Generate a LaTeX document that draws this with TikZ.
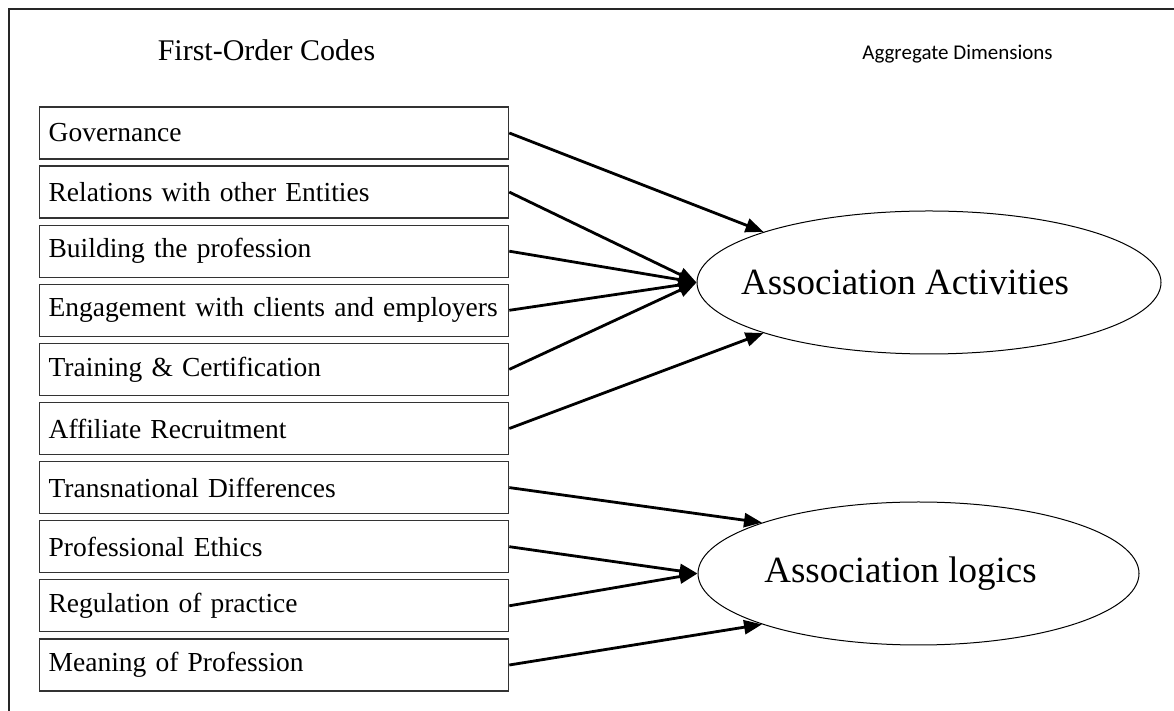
\documentclass[tikz,border=0pt]{standalone}
\usepackage{fontspec}
\setmainfont{Liberation Serif}
\newfontfamily\calibrifont{Carlito}
\usetikzlibrary{shapes.geometric,arrows.meta}
\begin{document}
\begin{tikzpicture}[x=1pt,y=1pt,
  codebox/.style={draw=black!80, line width=1.3pt, minimum height=52pt, anchor=west,
    inner xsep=9pt, inner ysep=0pt, text width=451pt, align=left,
    font=\fontsize{27.5}{32}\selectfont},
  dim/.style={draw, line width=1pt, ellipse, inner sep=0pt},
  dimtext/.style={font=\fontsize{37}{40}\selectfont},
  link/.style={line width=2.8pt, -{Triangle[length=18pt,width=14pt]}}]
\useasboundingbox (0,0) rectangle (1174,711);
% frame (cropped on the right and bottom)
\draw[line width=2pt, black!85] (1174,702) -- (9,702) -- (9,0);
% headings
\node[font=\fontsize{30}{34}\selectfont, anchor=base] (h1) at (266.5,650) {First-Order Codes};
\node[font=\calibrifont\fontsize{21}{25}\selectfont, anchor=base] (h2) at (957.5,651) {Aggregate Dimensions};
% code boxes
\node[codebox] (c1) at (39,578) {\mbox{Governance}};
\node[codebox] (c2) at (39,518.9) {\mbox{Relations with other Entities}};
\node[codebox] (c3) at (39,459.8) {\mbox{Building the profession}};
\node[codebox] (c4) at (39,400.7) {\mbox{Engagement with clients and employers}};
\node[codebox] (c5) at (39,341.6) {\mbox{Training \& Certification}};
\node[codebox] (c6) at (39,282.5) {\mbox{Affiliate Recruitment}};
\node[codebox] (c7) at (39,223.4) {\mbox{Transnational Differences}};
\node[codebox] (c8) at (39,164.3) {\mbox{Professional Ethics}};
\node[codebox] (c9) at (39,105.2) {\mbox{Regulation of practice}};
\node[codebox] (c10) at (39,46) {\mbox{Meaning of Profession}};
% aggregate dimensions
\node[dim, minimum width=464pt, minimum height=143pt] (act) at (929,428.5) {};
\node[dimtext] (actl) at ([xshift=-24pt]act.center) {Association Activities};
\node[dim, minimum width=441pt, minimum height=143pt] (log) at (918.5,137.5) {};
\node[dimtext] (logl) at ([xshift=-18pt]log.center) {Association logics};
% connectors
\draw[link] (c1.east) -- (act.163);
\draw[link] (c2.east) -- (act.west);
\draw[link] (c3.east) -- (act.west);
\draw[link] (c4.east) -- (act.west);
\draw[link] (c5.east) -- (act.west);
\draw[link] (c6.east) -- (act.197);
\draw[link] (c7.east) -- (log.162);
\draw[link] (c8.east) -- (log.west);
\draw[link] (c9.east) -- (log.west);
\draw[link] (c10.east) -- (log.198);
\end{tikzpicture}
\end{document}
